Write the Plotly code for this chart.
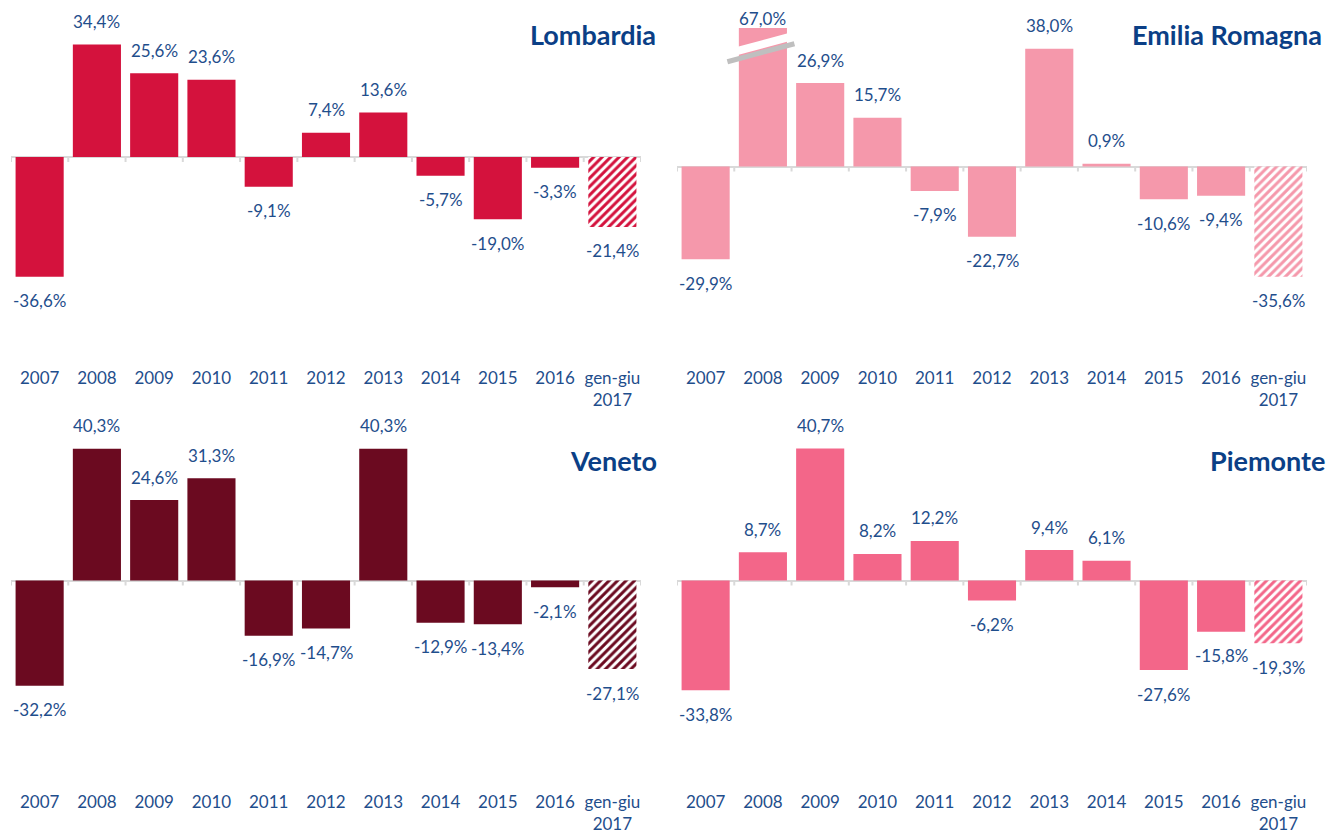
import plotly.graph_objects as go

categories = ["2007", "2008", "2009", "2010", "2011", "2012", "2013", "2014", "2015", "2016", "gen-giu<br>2017"]

lombardia = [-36.6, 34.4, 25.6, 23.6, -9.1, 7.4, 13.6, -5.7, -19.0, -3.3, -21.4]
emilia = [-29.9, 67.0, 26.9, 15.7, -7.9, -22.7, 38.0, 0.9, -10.6, -9.4, -35.6]
veneto = [-32.2, 40.3, 24.6, 31.3, -16.9, -14.7, 40.3, -12.9, -13.4, -2.1, -27.1]
piemonte = [-33.8, 8.7, 40.7, 8.2, 12.2, -6.2, 9.4, 6.1, -27.6, -15.8, -19.3]

titles = ["Lombardia", "Emilia Romagna", "Veneto", "Piemonte"]
colors = ["#D4123D", "#F598AB", "#6B0A20", "#F36689"]

OFF = 8  # page body margin
W, H = 1343 - OFF, 835 - OFF
FONT = "Lato"
TXT = "#1F4E8C"
TITLE_C = "#0B3F86"

def px_x(p):
    return (p - OFF) / W

def px_y(p):
    return 1 - (p - OFF) / H

# panel geometry in screen pixels: (left, right, top, bottom, zero_y, px_per_unit)
panels = [
    (11, 641, 10, 366, 157, 3.27),
    (677, 1307, 28, 366, 166.5, 3.10),
    (11, 641, 432, 790, 580.5, 3.27),
    (677, 1307, 432, 790, 580.5, 3.245),
]
title_pos = [(658, 35), (1324, 35), (659, 460), (1327, 460)]

data = [lombardia, emilia, veneto, piemonte]

fig = go.Figure()
layout_axes = {}
annotations = []
shapes = []

for i, (vals, col, title) in enumerate(zip(data, colors, titles)):
    L, R, T, B, Z, s = panels[i]
    ytop = (Z - T) / s
    ybot = -(B - Z) / s
    xa = "x" if i == 0 else f"x{i+1}"
    ya = "y" if i == 0 else f"y{i+1}"
    xkey = "xaxis" if i == 0 else f"xaxis{i+1}"
    ykey = "yaxis" if i == 0 else f"yaxis{i+1}"

    n = len(categories)
    fig.add_trace(go.Bar(
        x=list(range(n - 1)), y=vals[:-1], xaxis=xa, yaxis=ya,
        marker=dict(color=col, line=dict(width=0)),
        width=0.84, showlegend=False, hoverinfo="skip",
    ))
    fig.add_trace(go.Bar(
        x=[n - 1], y=vals[-1:], xaxis=xa, yaxis=ya,
        marker=dict(color="white", line=dict(width=0),
                    pattern=dict(shape="/", fgcolor=col, bgcolor="white",
                                 size=6, solidity=0.5, fillmode="replace")),
        width=0.84, showlegend=False, hoverinfo="skip",
    ))

    layout_axes[xkey] = dict(
        domain=[px_x(L), px_x(R)], range=[-0.5, n - 0.5],
        tickmode="array", tickvals=list(range(n)), ticktext=categories,
        showgrid=False, zeroline=False, showline=False, ticks="",
        tickfont=dict(family=FONT, size=17, color=TXT),
        anchor=ya, fixedrange=True,
    )
    layout_axes[ykey] = dict(
        domain=[px_y(B), px_y(T)], range=[ybot, ytop],
        showgrid=False, zeroline=True, zerolinecolor="#D9D9D9", zerolinewidth=2,
        showticklabels=False, showline=False, ticks="",
        anchor=xa, fixedrange=True,
    )

    # small tick marks along the zero line at category boundaries
    for k in range(n + 1):
        shapes.append(dict(
            type="line", xref=xa, yref=ya, ysizemode="pixel", yanchor=0,
            x0=k - 0.5, x1=k - 0.5, y0=0, y1=-5,
            line=dict(color="#D9D9D9", width=2),
        ))

    # value labels
    for k, v in enumerate(vals):
        capped = v > ytop
        vy = min(v, ytop)
        lab = f"{v:.1f}%".replace(".", ",")
        if capped:
            shift = 9
        else:
            shift = 23 if v >= 0 else -24
        annotations.append(dict(
            x=k, y=vy, xref=xa, yref=ya, text=lab, showarrow=False,
            yshift=shift, yanchor="middle", xanchor="center",
            font=dict(family=FONT, size=17, color=TXT),
        ))

    tx, ty = title_pos[i]
    annotations.append(dict(
        x=px_x(tx), y=px_y(ty), xref="paper", yref="paper", text=f"<b>{title}</b>",
        showarrow=False, xanchor="right", yanchor="middle",
        font=dict(family=FONT, size=27, color=TITLE_C),
    ))

# break mark on the truncated Emilia Romagna 2008 bar
shapes.append(dict(type="line", xref="x2", yref="y2", x0=0.38, x1=1.55, y0=36.4, y1=42.2,
                   line=dict(color="white", width=8)))
shapes.append(dict(type="line", xref="x2", yref="y2", x0=0.38, x1=1.55, y0=33.8, y1=39.6,
                   line=dict(color="#BFBFBF", width=5)))

fig.update_layout(
    width=W, height=H, margin=dict(l=0, r=0, t=0, b=0),
    paper_bgcolor="white", plot_bgcolor="white",
    annotations=annotations, shapes=shapes, bargap=0.16,
    **layout_axes,
)

fig.write_html("out.html")
